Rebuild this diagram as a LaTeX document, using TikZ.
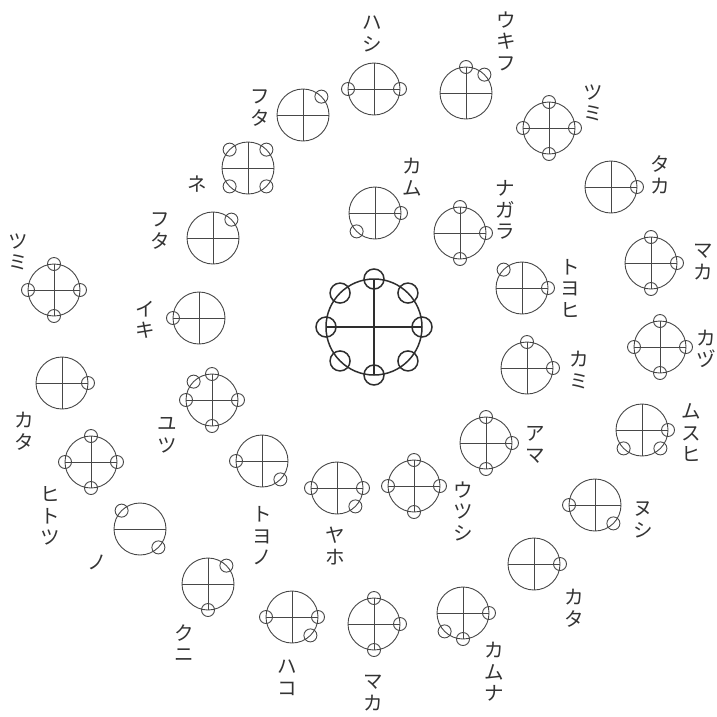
\documentclass[tikz,border=0pt]{standalone}
\usepackage{fontspec}
\newfontfamily\jpfont{Noto Sans CJK JP}
\usetikzlibrary{calc}
\tikzset{
  symline/.style={draw=black!72, line width=0.9pt},
  centreline/.style={draw=black!82, line width=1.5pt},
  lbl/.style={inner sep=0pt, align=center, text=black!80, font=\jpfont\fontsize{19.5}{21.5}\selectfont},
}
% #1 name, #2 centre, #3 angles of the small circles
\newcommand{\ksym}[3]{%
  \coordinate (#1) at #2;
  \draw[symline] (#1) circle[radius=26pt];
  \draw[symline] ($(#1)+(-26pt,0)$) -- ($(#1)+(26pt,0)$);
  \draw[symline] ($(#1)+(0,-26pt)$) -- ($(#1)+(0,26pt)$);
  \foreach \a in {#3}{\draw[symline] ($(#1)+(\a:26pt)$) circle[radius=6.5pt];}
}
\begin{document}
\begin{tikzpicture}[x=1pt,y=1pt]
\useasboundingbox (0,0) rectangle (717,-716);
\fill[white] (0,0) rectangle (717,-716);

% centre symbol
\coordinate (core) at (374,-327);
\draw[centreline] (core) circle[radius=48pt];
\draw[centreline] ($(core)+(-48pt,0)$) -- ($(core)+(48pt,0)$);
\draw[centreline] ($(core)+(0,-48pt)$) -- ($(core)+(0,48pt)$);
\foreach \a in {0,45,...,315}{\draw[centreline] ($(core)+(\a:48pt)$) circle[radius=10pt];}

% outer spiral
\ksym{hashi}{(374,-89)}{0,180}
\node[lbl] (hashi-l) at (372,-34) {ハ\\シ};
\ksym{futaA}{(303,-115)}{45}
\node[lbl] (futaA-l) at (260,-108) {フ\\タ};
\ksym{ne}{(248,-168)}{45,135,225,315}
\node[lbl] (ne-l) at (197,-184) {ネ};
\ksym{futaB}{(213,-238)}{45}
\node[lbl] (futaB-l) at (160,-231) {フ\\タ};
\ksym{tsumiL}{(54,-290)}{0,90,180,270}
\node[lbl] (tsumiL-l) at (18,-252) {ツ\\ミ};
\ksym{kataL}{(62,-383)}{0}
\node[lbl] (kataL-l) at (24,-431) {カ\\タ};
\ksym{hitotsu}{(91,-462)}{0,90,180,270}
\node[lbl] (hitotsu-l) at (50,-516) {ヒ\\ト\\ツ};
% no: horizontal bar only
\coordinate (no) at (140,-529);
\draw[symline] (no) circle[radius=26pt];
\draw[symline] ($(no)+(-26pt,0)$) -- ($(no)+(26pt,0)$);
\foreach \a in {135,315}{\draw[symline] ($(no)+(\a:26pt)$) circle[radius=6.5pt];}
\node[lbl] (no-l) at (97,-562) {ノ};
\ksym{kuni}{(208,-584)}{45,270}
\node[lbl] (kuni-l) at (184,-643) {ク\\ニ};
\ksym{hako}{(292,-617)}{0,180,315}
\node[lbl] (hako-l) at (287,-678) {ハ\\コ};
\ksym{makaB}{(374,-624)}{0,90,270}
\node[lbl] (makaB-l) at (373,-693) {マ\\カ};
\ksym{kamuna}{(463,-613)}{0,225,270}
\node[lbl] (kamuna-l) at (494,-672) {カ\\ム\\ナ};
\ksym{kataR}{(534,-564)}{0}
\node[lbl] (kataR-l) at (574,-608) {カ\\タ};
\ksym{nushi}{(595,-505)}{180,315}
\node[lbl] (nushi-l) at (643,-520) {ヌ\\シ};
\ksym{musuhi}{(642,-430)}{0,225,315}
\node[lbl] (musuhi-l) at (691,-433) {ム\\ス\\ヒ};
\ksym{katsu}{(660,-347)}{0,90,180,270}
\node[lbl] (katsu-l) at (706,-349) {カ\\ヅ};
\ksym{makaR}{(651,-263)}{0,90,270}
\node[lbl] (makaR-l) at (703,-262) {マ\\カ};
\ksym{taka}{(611,-187)}{0}
\node[lbl] (taka-l) at (660,-175) {タ\\カ};
\ksym{tsumiR}{(549,-128)}{0,90,180,270}
\node[lbl] (tsumiR-l) at (593,-103) {ツ\\ミ};
\ksym{ukifu}{(466,-93)}{45,90}
\node[lbl] (ukifu-l) at (506,-41) {ウ\\キ\\フ};

% inner spiral
\ksym{kamu}{(375,-213)}{0,225}
\node[lbl] (kamu-l) at (412,-177) {カ\\ム};
\ksym{nagara}{(460,-233)}{0,90,270}
\node[lbl] (nagara-l) at (505,-210) {ナ\\ガ\\ラ};
\ksym{toyohi}{(522,-288)}{0,135}
\node[lbl] (toyohi-l) at (570,-288) {ト\\ヨ\\ヒ};
\ksym{kami}{(527,-368)}{0,90}
\node[lbl] (kami-l) at (579,-370) {カ\\ミ};
\ksym{ama}{(486,-443)}{0,90,270}
\node[lbl] (ama-l) at (535,-445) {ア\\マ};
\ksym{utsushi}{(414,-486)}{0,90,180,270}
\node[lbl] (utsushi-l) at (463,-511) {ウ\\ツ\\シ};
\ksym{yaho}{(337,-488)}{0,180,315}
\node[lbl] (yaho-l) at (335,-546) {ヤ\\ホ};
\ksym{toyono}{(262,-461)}{180,315}
\node[lbl] (toyono-l) at (262,-536) {ト\\ヨ\\ノ};
\ksym{yutsu}{(212,-400)}{0,90,135,180,270}
\node[lbl] (yutsu-l) at (167,-435) {ユ\\ツ};
\ksym{iki}{(199,-318)}{180}
\node[lbl] (iki-l) at (145,-320) {イ\\キ};
\end{tikzpicture}
\end{document}
